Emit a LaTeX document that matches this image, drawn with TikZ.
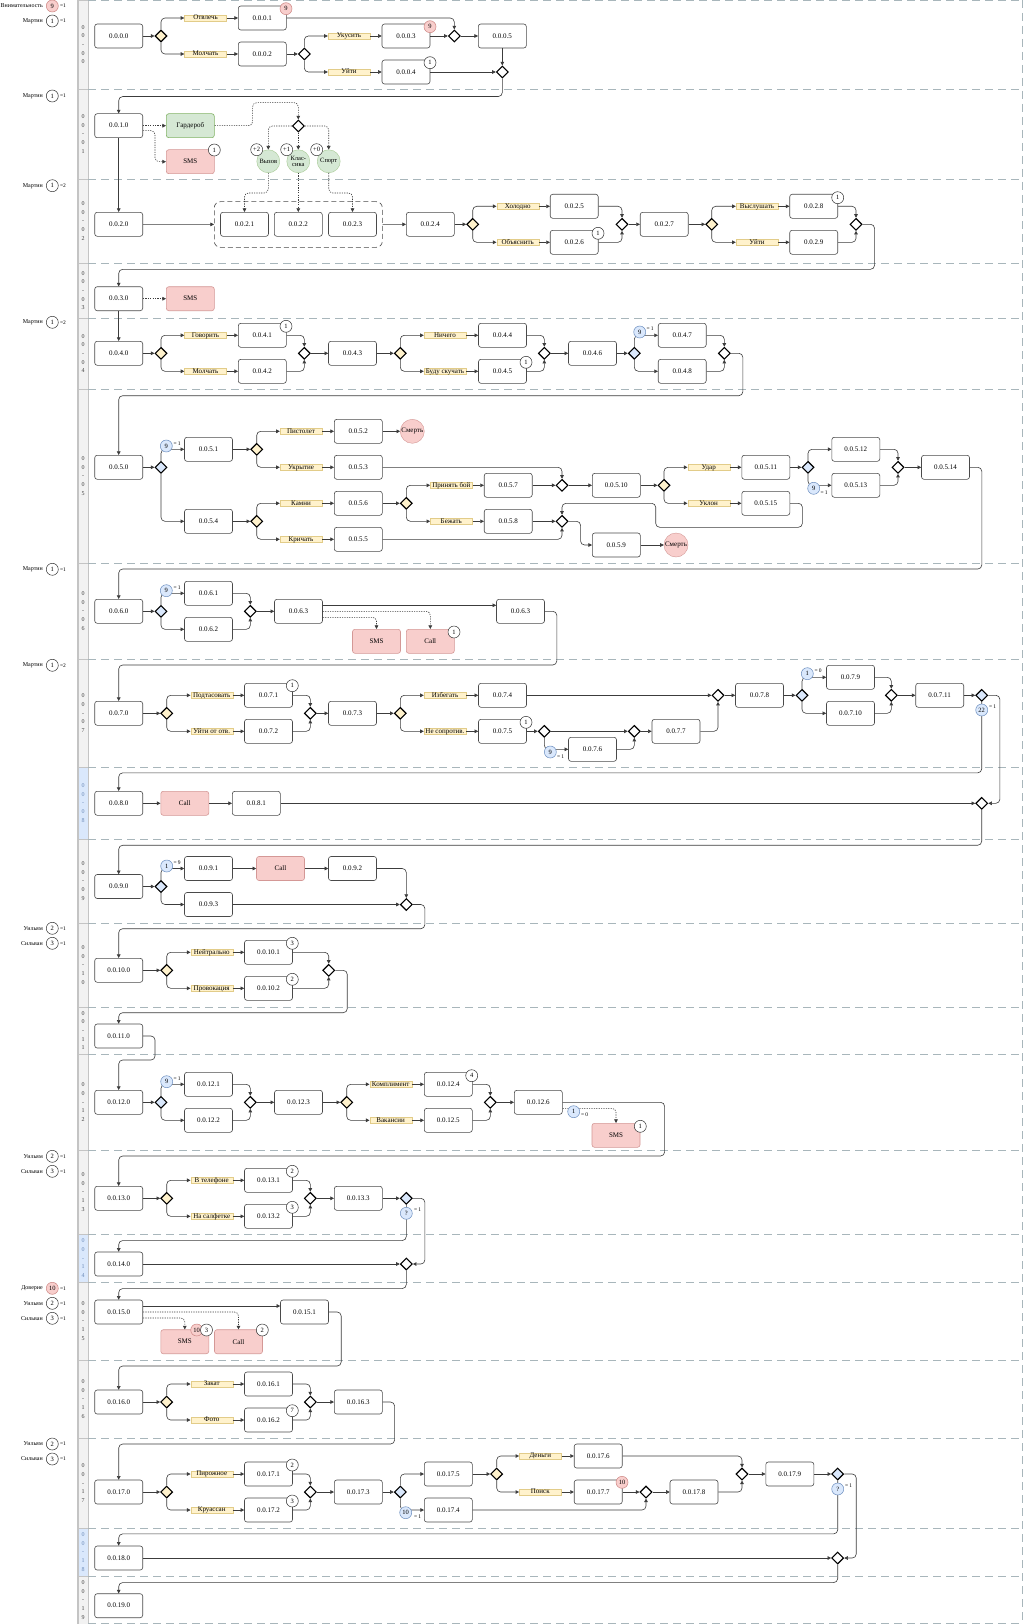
\documentclass[tikz,border=0pt]{standalone}
\usepackage{fontspec}
\setmainfont{Liberation Serif}
\usetikzlibrary{arrows.meta,shapes.geometric}
\definecolor{yel}{HTML}{FFF2CC}
\definecolor{yeld}{HTML}{D6B656}
\definecolor{blu}{HTML}{DAE8FC}
\definecolor{blud}{HTML}{6C8EBF}
\definecolor{red1}{HTML}{F8CECC}
\definecolor{redd}{HTML}{B85450}
\definecolor{grn}{HTML}{D5E8D4}
\definecolor{grnd}{HTML}{82B366}
\definecolor{lanec}{HTML}{A8B6BB}
\definecolor{linec}{HTML}{3C3C3C}
\definecolor{bdr}{HTML}{4A4A4A}
\definecolor{hdrfill}{HTML}{F2F2F2}
\definecolor{hdrline}{HTML}{C4C4C4}
\definecolor{blutext}{HTML}{3A63A0}
\newcommand\fsz[1]{\fontsize{#1}{#1}\selectfont}
\newcommand\leftlab[6]{%
  \node[lname] (#1n) at (43,#2) {#3};
  \node[#4] (#1c) at (52.3,#2) {#5};
  \node[eqt] (#1e) at (59.5,#2) {#6};}
\tikzset{
 box/.style={draw=bdr, line width=0.6pt, rounded corners=2.5pt, minimum width=48pt, minimum height=24pt, inner sep=0pt, fill=white, font=\fsz{7}},
 gbox/.style={box, fill=grn, draw=grnd},
 rbox/.style={box, fill=red1, draw=redd!60},
 tag/.style={fill=yel, draw=yeld!70, line width=0.4pt, minimum width=42pt, minimum height=6pt, text height=4.6pt, text depth=1.2pt, inner sep=0pt, font=\fsz{7}},
 gw/.style={diamond, draw=black, line width=1.1pt, minimum width=12pt, minimum height=12pt, inner sep=0pt, aspect=1},
 gwy/.style={gw, fill=yel},
 gwb/.style={gw, fill=blu},
 gww/.style={gw, fill=white},
 bdg/.style={circle, draw=black!80, line width=0.5pt, fill=white, minimum size=12pt, inner sep=0pt, font=\fsz{6.5}},
 bdgr/.style={bdg, fill=red1, draw=redd!70},
 bdgb/.style={bdg, fill=blu, draw=blud},
 eqt/.style={font=\fsz{5.5}, inner sep=0.3pt, anchor=west},
 gcirc/.style={circle, fill=grn, draw=grnd!70, minimum size=23pt, inner sep=0pt, font=\fsz{6.5}, align=center},
 death/.style={circle, fill=red1, draw=redd!60, minimum size=24pt, inner sep=0pt, font=\fsz{7}},
 grp/.style={draw=bdr, line width=0.6pt, dash pattern=on 5pt off 3pt, rounded corners=6pt, minimum width=168pt, minimum height=45.6pt, inner sep=0pt},
 flow/.style={draw=linec, line width=0.6pt, rounded corners=4pt, -{Triangle[length=3.6pt,width=3.6pt]}},
 dflow/.style={flow, dash pattern=on 1.2pt off 1.2pt},
 lname/.style={font=\fsz{6}, anchor=east, inner sep=0pt},
 lanelab/.style={font=\fontsize{6}{8.6}\selectfont, align=center, inner sep=0pt},
 lanedash/.style={draw=lanec, line width=0.8pt, dash pattern=on 8pt off 5pt},
}
\begin{document}
\begin{tikzpicture}[x=1pt,y=-1pt]
\useasboundingbox (0,0) rectangle (1024,1624);
\fill[white] (0,0) rectangle (1024,1624);
% ---------- lanes ----------
\foreach \t/\b/\da/\db/\fc/\tc [count=\i from 0] in {0/89/0/0/hdrfill/black, 89/179/0/1/hdrfill/black, 179/263/0/2/hdrfill/black, 263/318/0/3/hdrfill/black, 318/389/0/4/hdrfill/black, 389/563/0/5/hdrfill/black, 563/659/0/6/hdrfill/black, 659/767/0/7/hdrfill/black, 767/839/0/8/blu/blutext, 839/923/0/9/hdrfill/black, 923/1007/1/0/hdrfill/black, 1007/1054/1/1/hdrfill/black, 1054/1150/1/2/hdrfill/black, 1150/1234/1/3/hdrfill/black, 1234/1282/1/4/blu/blutext, 1282/1360/1/5/hdrfill/black, 1360/1438/1/6/hdrfill/black, 1438/1528/1/7/hdrfill/black, 1528/1576/1/8/blu/blutext, 1576/1624/1/9/hdrfill/black}{
  \filldraw[fill=\fc, draw=hdrline, line width=0.6pt] (78,\t) rectangle (88,\b);
  \node[lanelab, text=\tc!75] (lane\i) at (83.2,{(\t+\b)/2}) {0\\0\\-\\\da\\\db};
}
\draw[hdrline, line width=2pt] (77.5,0) -- (77.5,1624);
\foreach \y in {0.5,89,179,263,318,389,563,659,767,839,923,1007,1054,1150,1234,1282,1360,1438,1528,1576,1623.5}{
  \draw[lanedash] (88,\y) -- (1022,\y);
}
\draw[lanedash] (1022.5,0) -- (1022.5,1624);

% ---------- nodes ----------
% lane 0
\node[box] (b0000) at (118.7,36) {0.0.0.0};
\node[gwy] (g00a) at (161,36) {};
\node[tag] (t00a) at (205.5,18) {Отвлечь};
\node[tag] (t00b) at (205.5,54) {Молчать};
\node[box] (b0001) at (262.3,18) {0.0.0.1};
\node[box] (b0002) at (262.3,54) {0.0.0.2};
\node[gww] (g00b) at (304.3,54) {};
\node[tag] (t00c) at (349,36) {Укусить};
\node[tag] (t00d) at (349,72) {Уйти};
\node[box] (b0003) at (406,36) {0.0.0.3};
\node[box] (b0004) at (406,72) {0.0.0.4};
\node[gww] (g00c) at (454.3,36) {};
\node[box] (b0005) at (502.3,36) {0.0.0.5};
\node[gww] (g00d) at (502.3,72) {};
% lane 1
\node[box] (b0010) at (118.7,125.7) {0.0.1.0};
\node[gbox] (gard) at (190.3,125.7) {Гардероб};
\node[rbox] (sms1) at (190.3,161.7) {SMS};
\node[gww] (g01) at (298.3,126) {};
\node[gcirc] (c1) at (268.3,161.3) {Вызов};
\node[gcirc] (c2) at (298.3,161.3) {Клас-\\сика};
\node[gcirc] (c3) at (328.7,161.3) {Спорт};
% lane 2
\node[box] (b0020) at (118.7,224.3) {0.0.2.0};
\node[grp] (grp) at (298.3,224.5) {};
\node[box] (b0021) at (244.5,224.3) {0.0.2.1};
\node[box] (b0022) at (298.3,224.3) {0.0.2.2};
\node[box] (b0023) at (352.5,224.3) {0.0.2.3};
\node[box] (b0024) at (430.3,224.3) {0.0.2.4};
\node[gwy] (g02a) at (472.7,224.3) {};
\node[tag] (t02a) at (517.7,206.3) {Холодно};
\node[tag] (t02b) at (517.7,242.3) {Объяснить};
\node[box] (b0025) at (574.2,206.3) {0.0.2.5};
\node[box] (b0026) at (574.2,242.3) {0.0.2.6};
\node[gww] (g02b) at (622,224.3) {};
\node[box] (b0027) at (664.2,224.3) {0.0.2.7};
\node[gwy] (g02c) at (711.7,224.3) {};
\node[tag] (t02c) at (757,206.3) {Выслушать};
\node[tag] (t02d) at (757,242.3) {Уйти};
\node[box] (b0028) at (813.7,206.3) {0.0.2.8};
\node[box] (b0029) at (813.7,242.3) {0.0.2.9};
\node[gww] (g02d) at (856,224.3) {};
% lane 3
\node[box] (b0030) at (118.7,298.7) {0.0.3.0};
\node[rbox] (sms3) at (190.3,298.7) {SMS};
% lane 4
\node[box] (b0040) at (118.7,353.3) {0.0.4.0};
\node[gwy] (g04a) at (161,353.3) {};
\node[tag] (t04a) at (205.5,335.3) {Говорить};
\node[tag] (t04b) at (205.5,371.3) {Молчать};
\node[box] (b0041) at (262.3,335.3) {0.0.4.1};
\node[box] (b0042) at (262.3,371.3) {0.0.4.2};
\node[gww] (g04b) at (304.3,353.3) {};
\node[box] (b0043) at (352.5,353.3) {0.0.4.3};
\node[gwy] (g04c) at (400.3,353.3) {};
\node[tag] (t04c) at (445,335.3) {Ничего};
\node[tag] (t04d) at (445,371.3) {Буду скучать};
\node[box] (b0044) at (502.5,335.3) {0.0.4.4};
\node[box] (b0045) at (502.5,371.3) {0.0.4.5};
\node[gww] (g04d) at (544.3,353.3) {};
\node[box] (b0046) at (592.5,353.3) {0.0.4.6};
\node[gwb] (g04e) at (634.3,353.3) {};
\node[box] (b0047) at (682.2,335.3) {0.0.4.7};
\node[box] (b0048) at (682.2,371.3) {0.0.4.8};
\node[gww] (g04f) at (724.3,353.3) {};
% lane 5
\node[box] (b0050) at (118.7,467.3) {0.0.5.0};
\node[gwb] (g05a) at (161,467.3) {};
\node[box] (b0051) at (208.5,449.3) {0.0.5.1};
\node[gwy] (g05b) at (256.7,449.3) {};
\node[tag] (t05a) at (301,431.3) {Пистолет};
\node[tag] (t05b) at (301,467.3) {Укрытие};
\node[box] (b0052) at (358.3,431.3) {0.0.5.2};
\node[death] (d1) at (412.3,431.3) {Смерть};
\node[box] (b0053) at (358.3,467.3) {0.0.5.3};
\node[box] (b0054) at (208.5,521.3) {0.0.5.4};
\node[gwy] (g05c) at (256.7,521.3) {};
\node[tag] (t05c) at (301,503.3) {Камни};
\node[tag] (t05d) at (301,539.3) {Кричать};
\node[box] (b0056) at (358.3,503.3) {0.0.5.6};
\node[box] (b0055) at (358.3,539.3) {0.0.5.5};
\node[gwy] (g05d) at (406.3,503.3) {};
\node[tag] (t05e) at (451.3,485.3) {Принять бой};
\node[tag] (t05f) at (451.3,521.3) {Бежать};
\node[box] (b0057) at (508.2,485.3) {0.0.5.7};
\node[box] (b0058) at (508.2,521.3) {0.0.5.8};
\node[gww] (g05e) at (562,485.3) {};
\node[box] (b00510) at (616.3,485.3) {0.0.5.10};
\node[gwy] (g05f) at (664,485.3) {};
\node[tag] (t05g) at (708.7,467.3) {Удар};
\node[tag] (t05h) at (708.7,503.3) {Уклон};
\node[box] (b00511) at (765.8,467.3) {0.0.5.11};
\node[box] (b00515) at (765.8,503.3) {0.0.5.15};
\node[gwb] (g05g) at (808,467.3) {};
\node[box] (b00512) at (855.8,449.3) {0.0.5.12};
\node[box] (b00513) at (855.8,485.3) {0.0.5.13};
\node[gww] (g05h) at (898,467.3) {};
\node[box] (b00514) at (945.5,467.3) {0.0.5.14};
\node[gww] (g05i) at (562,521.3) {};
\node[box] (b0059) at (616.3,545) {0.0.5.9};
\node[death] (d2) at (676,545) {Смерть};
% lane 6
\node[box] (b0060) at (118.7,611.3) {0.0.6.0};
\node[gwb] (g06a) at (161,611.3) {};
\node[box] (b0061) at (208.5,593.3) {0.0.6.1};
\node[box] (b0062) at (208.5,629.3) {0.0.6.2};
\node[gww] (g06b) at (250.3,611.3) {};
\node[box] (b0063a) at (298.5,611.3) {0.0.6.3};
\node[box] (b0063b) at (520.5,611.3) {0.0.6.3};
\node[rbox] (sms6) at (376.5,641.3) {SMS};
\node[rbox] (call6) at (430.3,641.3) {Call};
% lane 7
\node[box] (b0070) at (118.7,713.3) {0.0.7.0};
\node[gwy] (g07a) at (166.7,713.3) {};
\node[tag] (t07a) at (211.7,695.3) {Подтасовать};
\node[tag] (t07b) at (211.7,731.3) {Уйти от отв.};
\node[box] (b0071) at (268.5,695.3) {0.0.7.1};
\node[box] (b0072) at (268.5,731.3) {0.0.7.2};
\node[gww] (g07b) at (310.3,713.3) {};
\node[box] (b0073) at (352.5,713.3) {0.0.7.3};
\node[gwy] (g07c) at (400.3,713.3) {};
\node[tag] (t07c) at (445,695.3) {Избегать};
\node[tag] (t07d) at (445,731.3) {Не сопротив.};
\node[box] (b0074) at (502.5,695.3) {0.0.7.4};
\node[box] (b0075) at (502.5,731.3) {0.0.7.5};
\node[gww] (g07d) at (544.3,731.3) {};
\node[box] (b0076) at (592.5,749.3) {0.0.7.6};
\node[gww] (g07e) at (634.3,731.3) {};
\node[box] (b0077) at (676,731.3) {0.0.7.7};
\node[gww] (g07f) at (718,695.3) {};
\node[box] (b0078) at (759.5,695.3) {0.0.7.8};
\node[gwb] (g07g) at (802,695.3) {};
\node[box] (b0079) at (850.5,677.3) {0.0.7.9};
\node[box] (b00710) at (850.5,713.3) {0.0.7.10};
\node[gww] (g07h) at (891.3,695.3) {};
\node[box] (b00711) at (939.7,695.3) {0.0.7.11};
\node[gwb] (g07i) at (981.7,695.3) {};
% lane 8
\node[box] (b0080) at (118.7,803.3) {0.0.8.0};
\node[rbox] (call8) at (184.8,803.3) {Call};
\node[box] (b0081) at (256.3,803.3) {0.0.8.1};
\node[gww] (g08) at (981.7,803.3) {};
% lane 9
\node[box] (b0090) at (118.7,886.5) {0.0.9.0};
\node[gwb] (g09a) at (161,886.5) {};
\node[box] (b0091) at (208.5,868.5) {0.0.9.1};
\node[rbox] (call9) at (280.5,868.5) {Call};
\node[box] (b0092) at (352.5,868.5) {0.0.9.2};
\node[box] (b0093) at (208.5,904.5) {0.0.9.3};
\node[gww] (g09b) at (406.3,904.5) {};
% lane 10
\node[box] (b0100) at (118.7,970.3) {0.0.10.0};
\node[gwy] (g10a) at (166.7,970.3) {};
\node[tag] (t10a) at (211.7,952.3) {Нейтрально};
\node[tag] (t10b) at (211.7,988.3) {Провокация};
\node[box] (b01001) at (268.5,952.3) {0.0.10.1};
\node[box] (b01002) at (268.5,988.3) {0.0.10.2};
\node[gww] (g10b) at (328.7,970.3) {};
% lane 11
\node[box] (b0110) at (118.7,1036) {0.0.11.0};
% lane 12
\node[box] (b0120) at (118.7,1102.3) {0.0.12.0};
\node[gwb] (g12a) at (161,1102.3) {};
\node[box] (b01201) at (208.5,1084.3) {0.0.12.1};
\node[box] (b01202) at (208.5,1120.3) {0.0.12.2};
\node[gww] (g12b) at (250.3,1102.3) {};
\node[box] (b01203) at (298.5,1102.3) {0.0.12.3};
\node[gwy] (g12c) at (346.7,1102.3) {};
\node[tag] (t12a) at (390.7,1084.3) {Комплимент};
\node[tag] (t12b) at (390.7,1120.3) {Вакансии};
\node[box] (b01204) at (448.3,1084.3) {0.0.12.4};
\node[box] (b01205) at (448.3,1120.3) {0.0.12.5};
\node[gww] (g12d) at (490.3,1102.3) {};
\node[box] (b01206) at (538.3,1102.3) {0.0.12.6};
\node[rbox] (sms12) at (616,1135.3) {SMS};
% lane 13
\node[box] (b0130) at (118.7,1198.3) {0.0.13.0};
\node[gwy] (g13a) at (166.7,1198.3) {};
\node[tag] (t13a) at (211.7,1180.3) {В телефоне};
\node[tag] (t13b) at (211.7,1216.3) {На салфетке};
\node[box] (b01301) at (268.5,1180.3) {0.0.13.1};
\node[box] (b01302) at (268.5,1216.3) {0.0.13.2};
\node[gww] (g13b) at (310.3,1198.3) {};
\node[box] (b01303) at (358.3,1198.3) {0.0.13.3};
\node[gwb] (g13c) at (406.3,1198.3) {};
% lane 14
\node[box] (b0140) at (118.7,1264) {0.0.14.0};
\node[gww] (g14) at (406.3,1264) {};
% lane 15
\node[box] (b0150) at (118.7,1312) {0.0.15.0};
\node[box] (b01501) at (304.5,1312) {0.0.15.1};
\node[rbox] (sms15) at (184.8,1341.7) {SMS};
\node[rbox] (call15) at (238.5,1341.7) {Call};
% lane 16
\node[box] (b0160) at (118.7,1402) {0.0.16.0};
\node[gwy] (g16a) at (166.7,1402) {};
\node[tag] (t16a) at (211.7,1384) {Закат};
\node[tag] (t16b) at (211.7,1420) {Фото};
\node[box] (b01601) at (268.5,1384) {0.0.16.1};
\node[box] (b01602) at (268.5,1420) {0.0.16.2};
\node[gww] (g16b) at (310.3,1402) {};
\node[box] (b01603) at (358.3,1402) {0.0.16.3};
% lane 17
\node[box] (b0170) at (118.7,1492) {0.0.17.0};
\node[gwy] (g17a) at (166.7,1492) {};
\node[tag] (t17a) at (211.7,1474) {Пирожное};
\node[tag] (t17b) at (211.7,1510) {Круассан};
\node[box] (b01701) at (268.5,1474) {0.0.17.1};
\node[box] (b01702) at (268.5,1510) {0.0.17.2};
\node[gww] (g17b) at (310.3,1492) {};
\node[box] (b01703) at (358.3,1492) {0.0.17.3};
\node[gwb] (g17c) at (400.3,1492) {};
\node[box] (b01705) at (448.3,1474) {0.0.17.5};
\node[box] (b01704) at (448.3,1510) {0.0.17.4};
\node[gwy] (g17d) at (496.7,1474) {};
\node[tag] (t17c) at (540.3,1456) {Деньги};
\node[tag] (t17d) at (540.3,1492) {Поиск};
\node[box] (b01706) at (598.2,1456) {0.0.17.6};
\node[box] (b01707) at (598.2,1492) {0.0.17.7};
\node[gww] (g17e) at (646,1492) {};
\node[box] (b01708) at (694,1492) {0.0.17.8};
\node[gww] (g17f) at (742,1474) {};
\node[box] (b01709) at (789.8,1474) {0.0.17.9};
\node[gwb] (g17g) at (837.7,1474) {};
% lane 18, 19
\node[box] (b0180) at (118.7,1558) {0.0.18.0};
\node[gww] (g18) at (837.7,1558) {};
\node[box] (b0190) at (118.7,1605.7) {0.0.19.0};

% ---------- edges ----------
% lane 0
\draw[flow] (b0000) -- (g00a);
\draw[flow] (g00a.north) |- (t00a);
\draw[flow] (t00a) -- (b0001);
\draw[flow] (g00a.south) |- (t00b);
\draw[flow] (t00b) -- (b0002);
\draw[flow] (b0002) -- (g00b);
\draw[flow] (g00b.north) |- (t00c);
\draw[flow] (t00c) -- (b0003);
\draw[flow] (g00b.south) |- (t00d);
\draw[flow] (t00d) -- (b0004);
\draw[flow] (b0001) -| (g00c.north);
\draw[flow] (b0003) -- (g00c);
\draw[flow] (g00c) -- (b0005);
\draw[flow] (b0005) -- (g00d);
\draw[flow] (b0004) -- (g00d);
\draw[flow] (g00d.south) -- ++(0,18) -| (b0010.north);
% lane 1
\draw[dflow] (b0010) -- (gard);
\draw[dflow] ([yshift=-5pt]b0010.east) -- ++(12,0) |- (sms1);
\draw[dflow] (gard.east) -- ++(38,0) -- ++(0,-23) -| (g01.north);
\draw[dflow] (g01.west) -| (c1.north);
\draw[dflow] (g01.south) -- (c2.north);
\draw[dflow] (g01.east) -| (c3.north);
\draw[dflow] (c1.south) -- ++(0,20) -| (b0021.north);
\draw[dflow] (c2.south) -- (b0022.north);
\draw[dflow] (c3.south) -- ++(0,20) -| (b0023.north);
\draw[flow] (b0010) -- (b0020);
% lane 2
\draw[flow] (b0020) -- (grp);
\draw[flow] (grp) -- (b0024);
\draw[flow] (b0024) -- (g02a);
\draw[flow] (g02a.north) |- (t02a);
\draw[flow] (t02a) -- (b0025);
\draw[flow] (g02a.south) |- (t02b);
\draw[flow] (t02b) -- (b0026);
\draw[flow] (b0025) -| (g02b.north);
\draw[flow] (b0026) -| (g02b.south);
\draw[flow] (g02b) -- (b0027);
\draw[flow] (b0027) -- (g02c);
\draw[flow] (g02c.north) |- (t02c);
\draw[flow] (t02c) -- (b0028);
\draw[flow] (g02c.south) |- (t02d);
\draw[flow] (t02d) -- (b0029);
\draw[flow] (b0028) -| (g02d.north);
\draw[flow] (b0029) -| (g02d.south);
\draw[flow] (g02d.east) -- ++(12,0) -- ++(0,45) -| (b0030.north);
% lane 3
\draw[dflow] (b0030) -- (sms3);
\draw[flow] (b0030) -- (b0040);
% lane 4
\draw[flow] (b0040) -- (g04a);
\draw[flow] (g04a.north) |- (t04a); \draw[flow] (t04a) -- (b0041);
\draw[flow] (g04a.south) |- (t04b); \draw[flow] (t04b) -- (b0042);
\draw[flow] (b0041) -| (g04b.north); \draw[flow] (b0042) -| (g04b.south);
\draw[flow] (g04b) -- (b0043); \draw[flow] (b0043) -- (g04c);
\draw[flow] (g04c.north) |- (t04c); \draw[flow] (t04c) -- (b0044);
\draw[flow] (g04c.south) |- (t04d); \draw[flow] (t04d) -- (b0045);
\draw[flow] (b0044) -| (g04d.north); \draw[flow] (b0045) -| (g04d.south);
\draw[flow] (g04d) -- (b0046); \draw[flow] (b0046) -- (g04e);
\draw[flow] (g04e.north) |- (b0047); \draw[flow] (g04e.south) |- (b0048);
\draw[flow] (b0047) -| (g04f.north); \draw[flow] (b0048) -| (g04f.south);
\draw[flow] (g04f.east) -- ++(12,0) -- ++(0,42.4) -| (b0050.north);
% lane 5
\draw[flow] (b0050) -- (g05a);
\draw[flow] (g05a.north) |- (b0051);
\draw[flow] (g05a.south) |- (b0054);
\draw[flow] (b0051) -- (g05b);
\draw[flow] (g05b.north) |- (t05a); \draw[flow] (t05a) -- (b0052); \draw[flow] (b0052) -- (d1);
\draw[flow] (g05b.south) |- (t05b); \draw[flow] (t05b) -- (b0053);
\draw[flow] (b0053) -| (g05e.north);
\draw[flow] (b0054) -- (g05c);
\draw[flow] (g05c.north) |- (t05c); \draw[flow] (t05c) -- (b0056);
\draw[flow] (g05c.south) |- (t05d); \draw[flow] (t05d) -- (b0055);
\draw[flow] (b0056) -- (g05d);
\draw[flow] (g05d.north) |- (t05e); \draw[flow] (t05e) -- (b0057);
\draw[flow] (g05d.south) |- (t05f); \draw[flow] (t05f) -- (b0058);
\draw[flow] (b0057) -- (g05e);
\draw[flow] (g05e) -- (b00510);
\draw[flow] (b00510) -- (g05f);
\draw[flow] (g05f.north) |- (t05g); \draw[flow] (t05g) -- (b00511);
\draw[flow] (g05f.south) |- (t05h); \draw[flow] (t05h) -- (b00515);
\draw[flow] (b00511) -- (g05g);
\draw[flow] (g05g.north) |- (b00512); \draw[flow] (g05g.south) |- (b00513);
\draw[flow] (b00512) -| (g05h.north); \draw[flow] (b00513) -| (g05h.south);
\draw[flow] (g05h) -- (b00514);
\draw[flow] (b0058) -- (g05i);
\draw[flow] (b0055) -| (g05i.south);
\draw[flow] (b00515.east) -- ++(12.3,0) -- ++(0,24) -- ++(-146.7,0) -- ++(0,-24) -| (g05i.north);
\draw[flow] (g05i.east) -- ++(12,0) |- (b0059);
\draw[flow] (b0059) -- (d2);
\draw[flow] (b00514.east) -- ++(12,0) -- ++(0,101.7) -| (b0060.north);
% lane 6
\draw[flow] (b0060) -- (g06a);
\draw[flow] (g06a.north) |- (b0061); \draw[flow] (g06a.south) |- (b0062);
\draw[flow] (b0061) -| (g06b.north); \draw[flow] (b0062) -| (g06b.south);
\draw[flow] (g06b) -- (b0063a);
\draw[flow] ([yshift=6pt]b0063a.east) -- ([yshift=6pt]b0063b.west);
\draw[dflow] (b0063a.east) -| (call6.north);
\draw[dflow] ([yshift=-6pt]b0063a.east) -| (sms6.north);
\draw[flow] (b0063b.east) -- ++(12,0) -- ++(0,53.7) -| (b0070.north);
% lane 7
\draw[flow] (b0070) -- (g07a);
\draw[flow] (g07a.north) |- (t07a); \draw[flow] (t07a) -- (b0071);
\draw[flow] (g07a.south) |- (t07b); \draw[flow] (t07b) -- (b0072);
\draw[flow] (b0071) -| (g07b.north); \draw[flow] (b0072) -| (g07b.south);
\draw[flow] (g07b) -- (b0073); \draw[flow] (b0073) -- (g07c);
\draw[flow] (g07c.north) |- (t07c); \draw[flow] (t07c) -- (b0074);
\draw[flow] (g07c.south) |- (t07d); \draw[flow] (t07d) -- (b0075);
\draw[flow] (b0074) -- (g07f);
\draw[flow] (b0075) -- (g07d);
\draw[flow] (g07d) -- (g07e);
\draw[flow] (g07d.south) |- (b0076);
\draw[flow] (b0076) -| (g07e.south);
\draw[flow] (g07e) -- (b0077);
\draw[flow] (b0077) -| (g07f.south);
\draw[flow] (g07f) -- (b0078); \draw[flow] (b0078) -- (g07g);
\draw[flow] (g07g.north) |- (b0079); \draw[flow] (g07g.south) |- (b00710);
\draw[flow] (b0079) -| (g07h.north); \draw[flow] (b00710) -| (g07h.south);
\draw[flow] (g07h) -- (b00711); \draw[flow] (b00711) -- (g07i);
\draw[flow] (g07i.south) -- ++(0,71) -| (b0080.north);
\draw[flow] (g07i.east) -- ++(11.6,0) |- (g08);
% lane 8
\draw[flow] (b0080) -- (call8); \draw[flow] (call8) -- (b0081); \draw[flow] (b0081) -- (g08);
\draw[flow] (g08.south) -- ++(0,35.4) -| (b0090.north);
% lane 9
\draw[flow] (b0090) -- (g09a);
\draw[flow] (g09a.north) |- (b0091); \draw[flow] (g09a.south) |- (b0093);
\draw[flow] (b0091) -- (call9); \draw[flow] (call9) -- (b0092);
\draw[flow] (b0092) -| (g09b.north); \draw[flow] (b0093) -- (g09b);
\draw[flow] (g09b.east) -- ++(12,0) -- ++(0,24.2) -| (b0100.north);
% lane 10
\draw[flow] (b0100) -- (g10a);
\draw[flow] (g10a.north) |- (t10a); \draw[flow] (t10a) -- (b01001);
\draw[flow] (g10a.south) |- (t10b); \draw[flow] (t10b) -- (b01002);
\draw[flow] (b01001) -| (g10b.north); \draw[flow] (b01002) -| (g10b.south);
\draw[flow] (g10b.east) -- ++(12,0) -- ++(0,42.4) -| (b0110.north);
% lane 11
\draw[flow] (b0110.east) -- ++(12,0) -- ++(0,24) -| (b0120.north);
% lane 12
\draw[flow] (b0120) -- (g12a);
\draw[flow] (g12a.north) |- (b01201); \draw[flow] (g12a.south) |- (b01202);
\draw[flow] (b01201) -| (g12b.north); \draw[flow] (b01202) -| (g12b.south);
\draw[flow] (g12b) -- (b01203); \draw[flow] (b01203) -- (g12c);
\draw[flow] (g12c.north) |- (t12a); \draw[flow] (t12a) -- (b01204);
\draw[flow] (g12c.south) |- (t12b); \draw[flow] (t12b) -- (b01205);
\draw[flow] (b01204) -| (g12d.north); \draw[flow] (b01205) -| (g12d.south);
\draw[flow] (g12d) -- (b01206);
\draw[dflow] ([yshift=-6pt]b01206.east) -| (sms12.north);
\draw[flow] (b01206.east) -- ++(102,0) -- ++(0,53.7) -| (b0130.north);
% lane 13
\draw[flow] (b0130) -- (g13a);
\draw[flow] (g13a.north) |- (t13a); \draw[flow] (t13a) -- (b01301);
\draw[flow] (g13a.south) |- (t13b); \draw[flow] (t13b) -- (b01302);
\draw[flow] (b01301) -| (g13b.north); \draw[flow] (b01302) -| (g13b.south);
\draw[flow] (g13b) -- (b01303); \draw[flow] (b01303) -- (g13c);
\draw[flow] (g13c.south) -- ++(0,35.7) -| (b0140.north);
\draw[flow] (g13c.east) -- ++(12,0) |- (g14);
% lane 14
\draw[flow] (b0140) -- (g14);
\draw[flow] (g14.south) -- ++(0,18) -| (b0150.north);
% lane 15
\draw[flow] ([yshift=6pt]b0150.east) -- ([yshift=6pt]b01501.west);
\draw[dflow] (b0150.east) -| (call15.north);
\draw[dflow] ([yshift=-6pt]b0150.east) -| (sms15.north);
\draw[flow] (b01501.east) -- ++(12.4,0) -- ++(0,54) -| (b0160.north);
% lane 16
\draw[flow] (b0160) -- (g16a);
\draw[flow] (g16a.north) |- (t16a); \draw[flow] (t16a) -- (b01601);
\draw[flow] (g16a.south) |- (t16b); \draw[flow] (t16b) -- (b01602);
\draw[flow] (b01601) -| (g16b.north); \draw[flow] (b01602) -| (g16b.south);
\draw[flow] (g16b) -- (b01603);
\draw[flow] (b01603.east) -- ++(12,0) -- ++(0,42) -| (b0170.north);
% lane 17
\draw[flow] (b0170) -- (g17a);
\draw[flow] (g17a.north) |- (t17a); \draw[flow] (t17a) -- (b01701);
\draw[flow] (g17a.south) |- (t17b); \draw[flow] (t17b) -- (b01702);
\draw[flow] (b01701) -| (g17b.north); \draw[flow] (b01702) -| (g17b.south);
\draw[flow] (g17b) -- (b01703); \draw[flow] (b01703) -- (g17c);
\draw[flow] (g17c.north) |- (b01705); \draw[flow] (g17c.south) |- (b01704);
\draw[flow] (b01705) -- (g17d);
\draw[flow] (g17d.north) |- (t17c); \draw[flow] (t17c) -- (b01706);
\draw[flow] (g17d.south) |- (t17d); \draw[flow] (t17d) -- (b01707);
\draw[flow] (b01707) -- (g17e);
\draw[flow] (b01704) -| (g17e.south);
\draw[flow] (g17e) -- (b01708);
\draw[flow] (b01706) -| (g17f.north); \draw[flow] (b01708) -| (g17f.south);
\draw[flow] (g17f) -- (b01709); \draw[flow] (b01709) -- (g17g);
\draw[flow] (g17g.south) -- ++(0,53.3) -| (b0180.north);
\draw[flow] (g17g.east) -- ++(12,0) |- (g18);
% lane 18
\draw[flow] (b0180) -- (g18);
\draw[flow] (g18.south) -- ++(0,18) -| (b0190.north);

% ---------- badges ----------
\node[bdgr] (k1) at (286,8.7) {9};
\node[bdgr] (k2) at (430,26.7) {9};
\node[bdg] (k3) at (430,62.7) {1};
\node[bdg] (k4) at (214.3,150) {1};
\node[bdg] (k5) at (256.7,149.7) {+2};
\node[bdg] (k6) at (286.7,149.7) {+1};
\node[bdg] (k7) at (316.7,149.7) {+0};
\node[bdg] (k8) at (598,233.3) {1};
\node[bdg] (k9) at (837.7,197.7) {1};
\node[bdg] (k10) at (286,326.3) {1};
\node[bdg] (k11) at (526,362.3) {1};
\node[bdgb] (k12) at (639.7,332) {9}; \node[eqt] (e12) at (646,329) {= 1};
\node[bdgb] (k13) at (166.3,446) {9}; \node[eqt] (e13) at (173,443.3) {= 1};
\node[bdgb] (k14) at (813.7,488.3) {9}; \node[eqt] (e14) at (820,492.7) {= 1};
\node[bdgb] (k15) at (166.3,590.7) {9}; \node[eqt] (e15) at (173,587.7) {= 1};
\node[bdg] (k16) at (454,632) {1};
\node[bdg] (k17) at (292.3,685.7) {1};
\node[bdg] (k18) at (526,722.3) {1};
\node[bdgb] (k19) at (550.3,752) {9}; \node[eqt] (e19) at (556.5,756.7) {= 1};
\node[bdgb] (k20) at (807.3,673.7) {1}; \node[eqt] (e20) at (814,670.7) {= 0};
\node[bdgb] (k21) at (981.7,710) {22}; \node[eqt] (e21) at (988.5,707) {= 1};
\node[bdgb] (k22) at (166.7,866) {1}; \node[eqt] (e22) at (173,862.7) {= 9};
\node[bdg] (k23) at (292.3,943.3) {3};
\node[bdg] (k24) at (292.3,979.3) {2};
\node[bdgb] (k25) at (166.7,1081.7) {9}; \node[eqt] (e25) at (173,1078.3) {= 1};
\node[bdg] (k26) at (471.7,1075.7) {4};
\node[bdgb] (k27) at (573.7,1111.7) {1}; \node[eqt] (e27) at (580.5,1114.3) {= 0};
\node[bdg] (k28) at (640.3,1126.3) {1};
\node[bdg] (k29) at (292.3,1171.3) {2};
\node[bdg] (k30) at (292.3,1207.3) {3};
\node[bdgb] (k31) at (406.3,1213.3) {?}; \node[eqt] (e31) at (413.5,1210) {= 1};
\node[bdgr] (k32) at (196.7,1330) {10};
\node[bdg] (k33) at (206.5,1330) {3};
\node[bdg] (k34) at (262.3,1330) {2};
\node[bdg] (k35) at (292.3,1410.7) {7};
\node[bdg] (k36) at (292.3,1465) {2};
\node[bdg] (k37) at (292.3,1501) {3};
\node[bdgb] (k38) at (405.7,1512.7) {10}; \node[eqt] (e38) at (413.5,1516.7) {= 1};
\node[bdgr] (k39) at (622,1482.3) {10};
\node[bdgb] (k40) at (837.7,1489) {?}; \node[eqt] (e40) at (844.5,1485.7) {= 1};

% ---------- left labels ----------
\leftlab{la}{6}{Внимательность}{bdgr}{9}{=1}
\leftlab{lb}{21}{Мартин}{bdg}{1}{=1}
\leftlab{lc}{96}{Мартин}{bdg}{1}{=1}
\leftlab{ld}{185.7}{Мартин}{bdg}{1}{=2}
\leftlab{le}{322.3}{Мартин}{bdg}{1}{=2}
\leftlab{lf}{569.3}{Мартин}{bdg}{1}{=1}
\leftlab{lg}{665.3}{Мартин}{bdg}{1}{=2}
\leftlab{lh}{928.3}{Уильям}{bdg}{2}{=1}
\leftlab{li}{943.3}{Сильван}{bdg}{3}{=1}
\leftlab{lj}{1156.3}{Уильям}{bdg}{2}{=1}
\leftlab{lk}{1171.3}{Сильван}{bdg}{3}{=1}
\leftlab{ll}{1288.3}{Доверие}{bdgr}{10}{=1}
\leftlab{lm}{1303.3}{Уильям}{bdg}{2}{=1}
\leftlab{ln}{1318.3}{Сильван}{bdg}{3}{=1}
\leftlab{lo}{1444}{Уильям}{bdg}{2}{=1}
\leftlab{lp}{1459}{Сильван}{bdg}{3}{=1}
\end{tikzpicture}
\end{document}
